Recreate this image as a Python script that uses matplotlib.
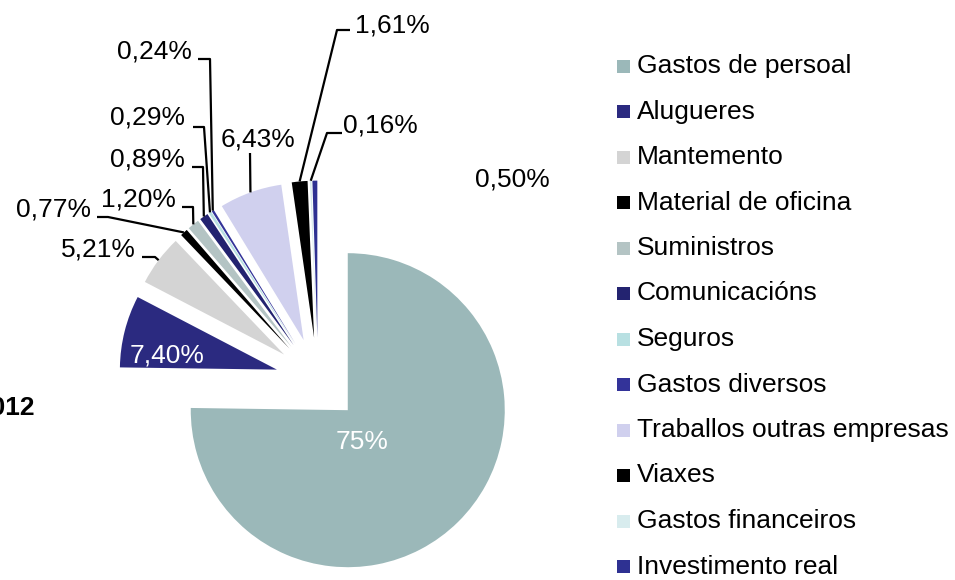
import numpy as np
import matplotlib
matplotlib.use('Agg')
import matplotlib.pyplot as plt
from matplotlib.patches import Rectangle

plt.rcParams['font.family'] = ['Liberation Sans', 'DejaVu Sans']

# Data
categories = ['Gastos de persoal', 'Alugueres', 'Mantemento', 'Material de oficina',
              'Suministros', 'Comunicacións', 'Seguros', 'Gastos diversos',
              'Traballos outras empresas', 'Viaxes', 'Gastos financeiros',
              'Investimento real']
values = [75.0, 7.40, 5.21, 0.77, 1.20, 0.89, 0.29, 0.24, 6.43, 1.61, 0.16, 0.50]
colors = ['#9bb8b9', '#2b2a80', '#d4d4d4', '#000000', '#b4c4c4', '#232370',
          '#b8e0e2', '#333399', '#d0d0ee', '#000000', '#d8ecee', '#2e3192']
year_label = '2012'


def pct(v):
    if v >= 10:
        return f"{v:.0f}%"
    return f"{v:.2f}%".replace('.', ',')


W, H = 955, 580
fig = plt.figure(figsize=(W / 100, H / 100), dpi=100)
ax = fig.add_axes([0, 0, 1, 1])


def P(x, y):
    # pixel (y down) -> data (y up)
    return x, H - y


R = 157
cx, cy = P(318, 380)
wedges, _ = ax.pie(values, colors=colors, startangle=90, counterclock=False,
                   radius=R, center=(cx, cy), explode=[0.27 * R] * len(values),
                   wedgeprops=dict(linewidth=0), frame=True)
ax.set_xlim(0, W)
ax.set_ylim(0, H)
ax.set_aspect('equal')
ax.axis('off')


def outer_point(w):
    mid = np.deg2rad((w.theta1 + w.theta2) / 2)
    return w.center[0] + w.r * np.cos(mid), w.center[1] + w.r * np.sin(mid)


fs = 19
# label placement: index -> (text center px, leader points px)
placements = {
    0: ((362, 442), None),
    1: ((167, 355), None),
    2: ((98, 249), [(142, 257), (155, 257)]),
    3: ((53, 210), [(97, 217), (108, 217)]),
    4: ((138, 200), [(182, 207), (193, 207)]),
    5: ((147, 159), [(192, 167), (203, 167)]),
    6: ((147, 118), [(193, 127), (204, 127)]),
    7: ((154, 52), [(198, 59), (210, 59)]),
    8: ((258, 140), [(250, 153)]),
    9: ((392, 25), [(350, 30), (337, 30)]),
    10: ((380, 125), [(342, 133), (327, 133)]),
    11: ((512, 180), None),
}
for i, ((tx, ty), leader) in placements.items():
    col = 'white' if i in (0, 1) else 'black'
    ax.text(*P(tx, ty), pct(values[i]), fontsize=fs, color=col,
            ha='center', va='center')
    if leader:
        pts = [P(x, y) for x, y in leader] + [outer_point(wedges[i])]
        xs, ys = zip(*pts)
        ax.plot(xs, ys, color='black', lw=1.6, solid_capstyle='butt')

ax.text(*P(35, 408), year_label, fontsize=fs, fontweight='bold',
        ha='right', va='center')

# legend
for i, (name, c) in enumerate(zip(categories, colors)):
    y = 66 + i * 45.5
    x0, y0 = P(617, y + 6.5)
    ax.add_patch(Rectangle((x0, y0), 13, 13, facecolor=c, edgecolor='none'))
    ax.text(*P(637, y), name, fontsize=fs, ha='left', va='center')

fig.savefig('out.png', dpi=100)
